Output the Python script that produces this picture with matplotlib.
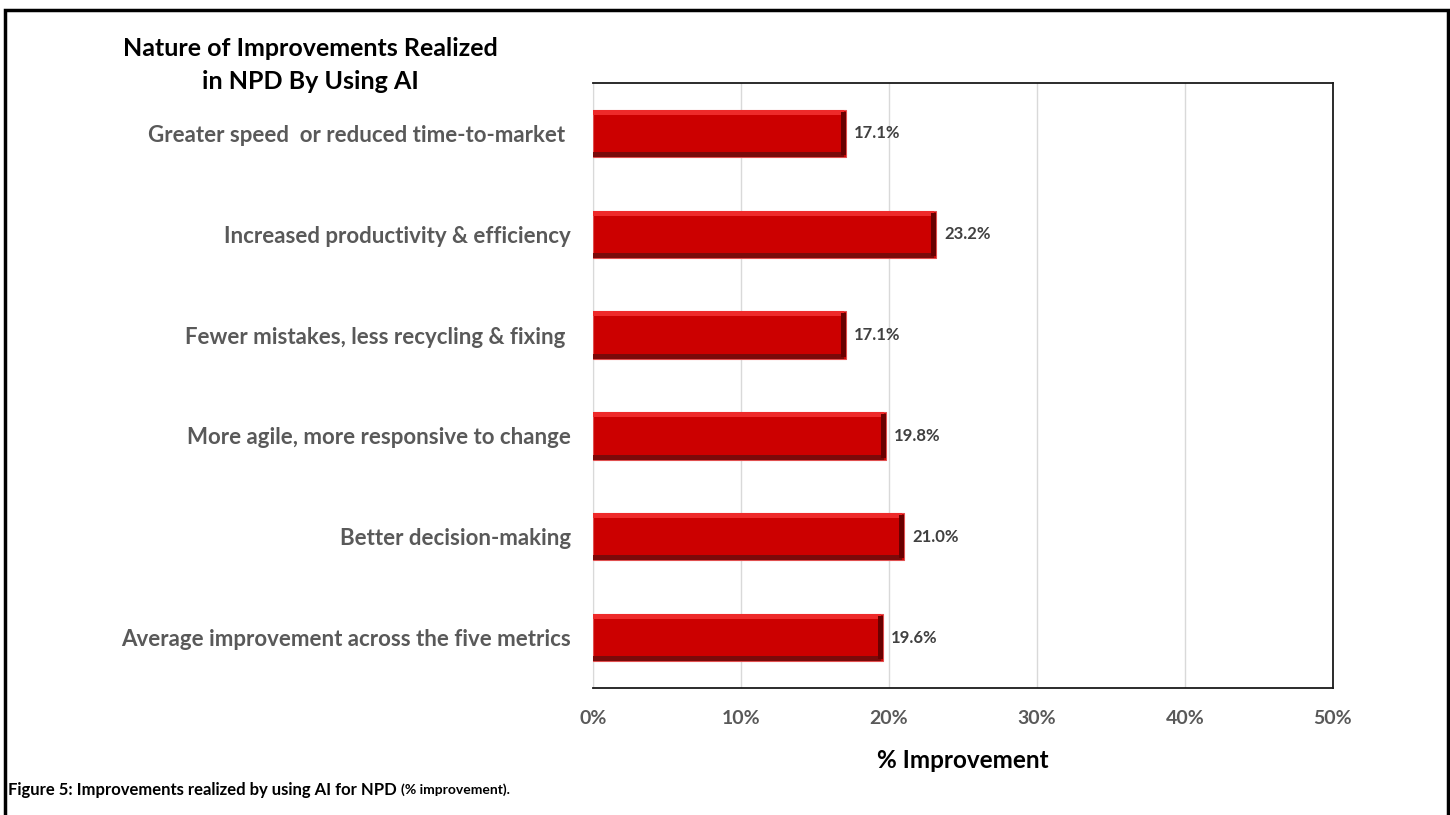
import numpy as np
import matplotlib.pyplot as plt
from matplotlib.patches import Rectangle

plt.rcParams['font.family'] = ['Lato', 'DejaVu Sans']

categories = ["Greater speed  or reduced time-to-market ",
              "Increased productivity & efficiency",
              "Fewer mistakes, less recycling & fixing ",
              "More agile, more responsive to change",
              "Better decision-making",
              "Average improvement across the five metrics"]
values = [17.1, 23.2, 17.1, 19.8, 21.0, 19.6]
ticks = [0, 10, 20, 30, 40, 50]
tick_labels = ["0%", "10%", "20%", "30%", "40%", "50%"]

W, H = 1450, 815
fig = plt.figure(figsize=(W / 100, H / 100), dpi=100)
ax = fig.add_axes([593 / W, 1 - 688 / H, (1333 - 593) / W, (688 - 83) / H])

y = np.arange(len(categories))
vals = np.array(values)
bh = 0.47

# beveled look: base bar, highlight on top, shadow at bottom and right
ax.barh(y, vals, height=bh, color="#CC0000", edgecolor="#E05050", linewidth=0.8, zorder=3)
ax.barh(y - bh / 2 + 0.025, vals - 0.15, height=0.05, color="#EE2A2A", linewidth=0, zorder=4)
ax.barh(y + bh / 2 - 0.025, vals - 0.15, height=0.05, color="#7A0A0A", linewidth=0, zorder=4)
ax.barh(y, [0.35] * len(vals), left=vals - 0.35, height=bh - 0.04, color="#6A0000", linewidth=0, zorder=4)

for yi, v in zip(y, vals):
    ax.text(v + 0.55, yi, f"{v:.1f}%", va="center", ha="left", fontsize=12,
            fontweight="bold", color="#404040")

ax.set_xlim(0, 50)
ax.set_ylim(len(categories) - 0.5, -0.5)
ax.set_xticks(ticks)
ax.set_xticklabels(tick_labels, fontsize=14, fontweight="bold", color="#595959")
ax.set_yticks(y)
ax.set_yticklabels(categories, fontsize=16, fontweight="bold", color="#595959")
ax.tick_params(axis="both", length=0)
ax.tick_params(axis="x", pad=16)
ax.tick_params(axis="y", pad=16)
ax.grid(axis="x", color="#D9D9D9", linewidth=1, zorder=0)
ax.spines["left"].set_color("#D9D9D9")
for s in ["top", "right", "bottom"]:
    ax.spines[s].set_color("#1a1a1a")
    ax.spines[s].set_linewidth(1.3)

ax.set_xlabel("% Improvement", fontsize=17.5, fontweight="bold", color="black", labelpad=16)

fig.text(310 / W, 1 - 65 / H, "Nature of Improvements Realized\nin NPD By Using AI",
         ha="center", va="center", fontsize=18, fontweight="bold", linespacing=1.5)

cap = fig.text(8 / W, 1 - 790 / H, "Figure 5: Improvements realized by using AI for NPD ",
               ha="left", va="center", fontsize=12, fontweight="bold")
fig.canvas.draw()
bb = cap.get_window_extent()
fig.text(bb.x1 / W, 1 - 790 / H, "(% improvement).", ha="left", va="center",
         fontsize=10, fontweight="bold")

fig.patches.append(Rectangle((5 / W, -0.01), (1448 - 5) / W, 1 - 10 / H + 0.01,
                             transform=fig.transFigure, fill=False,
                             edgecolor="black", linewidth=2.5))

fig.savefig("out.png", dpi=100)
